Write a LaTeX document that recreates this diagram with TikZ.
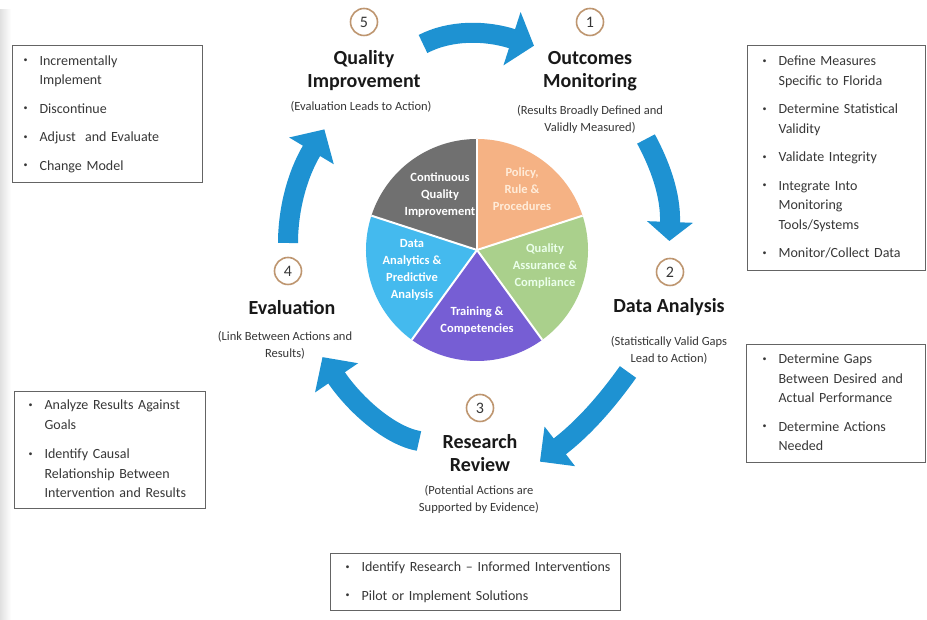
\documentclass[tikz,border=0pt]{standalone}
\usepackage{fontspec}
\setmainfont{Carlito}
\usetikzlibrary{decorations.markings}
\definecolor{ablue}{RGB}{30,146,210}
\definecolor{ring}{RGB}{190,150,112}
\definecolor{txt}{RGB}{55,55,55}
\definecolor{boxline}{RGB}{100,100,100}
\definecolor{sgray}{RGB}{112,112,112}
\definecolor{sorange}{RGB}{245,178,132}
\definecolor{sgreen}{RGB}{170,208,140}
\definecolor{spurple}{RGB}{118,94,212}
\definecolor{sblue}{RGB}{68,186,238}
\newcommand\bul{\makebox[16pt][l]{\raisebox{2.5pt}{\fontsize{8}{8}\selectfont\textbullet}}}
\tikzset{
  numc/.style={circle, draw=ring, line width=1.6pt, minimum size=27pt, inner sep=0pt,
    font=\fontsize{16}{16}\selectfont, text=txt},
  ttl/.style={align=center, font=\bfseries\fontsize{20}{23}\selectfont, text=black!90},
  subt/.style={align=center, font=\fontsize{12.5}{17}\selectfont, text=txt},
  slicetxt/.style={align=center, font=\bfseries\fontsize{12.5}{17}\selectfont},
  listbox/.style={draw=boxline, line width=1.2pt, anchor=north west, inner sep=0pt,
    font=\fontsize{14}{19.5}\selectfont, text=txt, align=left},
  bigarrow/.style n args={2}{draw=ablue, line width=20pt,
    postaction={decorate, decoration={markings, mark=at position 0.9999 with
      {\fill[ablue] (-1,#1) -- (#2,0) -- (-1,-#1) -- cycle;}}}}
}
\begin{document}
\begin{tikzpicture}[x=1pt,y=1pt]
\useasboundingbox (0,0) rectangle (927,620);
\fill[white] (0,0) rectangle (927,620);
\shade[left color=black!12, right color=white] (0,0) rectangle (11,610);

% pie
\coordinate (pc) at (477,370);
\fill[sgray]   (pc) -- ++(90:111pt)  arc[start angle=90,  end angle=162, radius=111pt] -- cycle;
\fill[sorange] (pc) -- ++(18:111pt)  arc[start angle=18,  end angle=90,  radius=111pt] -- cycle;
\fill[sgreen]  (pc) -- ++(-54:111pt) arc[start angle=-54, end angle=18,  radius=111pt] -- cycle;
\fill[spurple] (pc) -- ++(-126:111pt) arc[start angle=-126, end angle=-54, radius=111pt] -- cycle;
\fill[sblue]   (pc) -- ++(162:111pt) arc[start angle=162, end angle=234, radius=111pt] -- cycle;
\foreach \a in {90,18,-54,-126,162} \draw[white, line width=2pt] (pc) -- ++(\a:111pt);

\node[slicetxt, text=white] (sg) at (440,425) {Continuous\\Quality\\Improvement};
\node[slicetxt, text=orange!15] (so) at (522,431) {Policy,\\Rule \&\\Procedures};
\node[slicetxt, text=green!8] (sgr) at (545,354) {Quality\\Assurance \&\\Compliance};
\node[slicetxt, text=white] (sp) at (477,299) {Training \&\\Competencies};
\node[slicetxt, text=white] (sb) at (412,350) {Data\\Analytics \&\\Predictive\\Analysis};

% number circles
\node[numc] (n5) at (364,598) {5};
\node[numc] (n1) at (590,598) {1};
\node[numc] (n2) at (670,348) {2};
\node[numc] (n4) at (288,349) {4};
\node[numc] (n3) at (480,212) {3};

% titles
\node[ttl] (t5) at (364,549) {Quality\\Improvement};
\node[subt] (s5) at (361,513) {(Evaluation Leads to Action)};
\node[ttl] (t1) at (590,549) {Outcomes\\Monitoring};
\node[subt] (s1) at (590,501) {(Results Broadly Defined and\\Validly Measured)};
\node[ttl] (t2) at (669,313) {Data Analysis};
\node[subt] (s2) at (669,270) {(Statistically Valid Gaps\\Lead to Action)};
\node[ttl] (t4) at (292,312) {Evaluation};
\node[subt] (s4) at (285,275) {(Link Between Actions and\\Results)};
\node[ttl] (t3) at (480,167) {Research\\Review};
\node[subt] (s3) at (479,121) {(Potential Actions are\\Supported by Evidence)};

% arrows
\coordinate (a1s) at (423,576); \coordinate (a1e) at (513,581);
\coordinate (a2s) at (646,481); \coordinate (a2e) at (670,397);
\coordinate (a3s) at (628,248); \coordinate (a3e) at (559,173);
\coordinate (a4s) at (419,179); \coordinate (a4e) at (336,243);
\coordinate (a5s) at (288,377); \coordinate (a5e) at (312,470);
\draw[bigarrow={28}{22}] (a1s) .. controls (450,590) and (485,590) .. (a1e);
\draw[bigarrow={23}{18}] (a2s) .. controls (660,455) and (671,425) .. (a2e);
\draw[bigarrow={25}{24}] (a3s) .. controls (608,220) and (585,193) .. (a3e);
\draw[bigarrow={26}{24}] (a4s) .. controls (390,184) and (355,215) .. (a4e);
\draw[bigarrow={26}{24}] (a5s) .. controls (288,410) and (297,445) .. (a5e);

% boxes
\node[listbox, text width=190pt, minimum height=137pt] (b5) at (12,575) {\noindent
\begin{tabular}{@{\hspace{11pt}}l@{}l@{}}
\bul & Incrementally\\ & Implement\\[9pt]
\bul & Discontinue\\[9pt]
\bul & Adjust~ and Evaluate\\[9pt]
\bul & Change Model
\end{tabular}};

\node[listbox, text width=178pt, minimum height=225pt] (b1) at (747,575) {\noindent
\begin{tabular}{@{\hspace{15pt}}l@{}l@{}}
\bul & Define Measures\\ & Specific to Florida\\[9pt]
\bul & Determine Statistical\\ & Validity\\[9pt]
\bul & Validate Integrity\\[9pt]
\bul & Integrate Into\\ & Monitoring\\ & Tools/Systems\\[9pt]
\bul & Monitor/Collect Data
\end{tabular}};

\node[listbox, text width=179pt, minimum height=118pt] (b2) at (746,276) {\noindent
\begin{tabular}{@{\hspace{16pt}}l@{}l@{}}
\bul & Determine Gaps\\ & Between Desired and\\ & Actual Performance\\[9pt]
\bul & Determine Actions\\ & Needed
\end{tabular}};

\node[listbox, text width=191pt, minimum height=117pt] (b4) at (14,229) {\noindent
\begin{tabular}{@{\hspace{14pt}}l@{}l@{}}
\bul & Analyze Results Against\\ & Goals\\[10pt]
\bul & Identify Causal\\ & Relationship Between\\ & Intervention and Results
\end{tabular}};

\node[listbox, text width=290pt, minimum height=57pt] (b3) at (330,67) {\noindent
\begin{tabular}{@{\hspace{15pt}}l@{}l@{}}
\bul & Identify Research – Informed Interventions\\[9pt]
\bul & Pilot or Implement Solutions
\end{tabular}};
\end{tikzpicture}
\end{document}
